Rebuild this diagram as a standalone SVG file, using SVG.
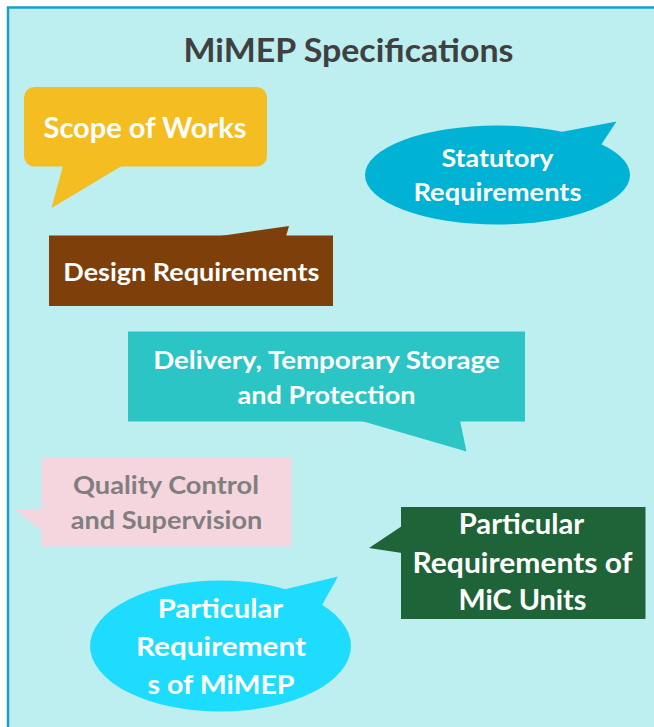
<svg xmlns="http://www.w3.org/2000/svg" width="654" height="727" viewBox="0 0 654 727">
<style>
text{font-family:Lato,"Open Sans","Liberation Sans",sans-serif;font-weight:bold;text-anchor:middle;}
.w{fill:#ffffff;}
.t{font-size:25px;}
.g{fill:#7f7f7f;}
</style>
<rect x="0" y="0" width="654" height="727" fill="#ffffff"/>
<rect id="frame" x="8" y="7.5" width="660" height="740" fill="#bdeff0" stroke="#1ba0c4" stroke-width="2.5"/>
<text id="title" x="348.5" y="61.5" font-size="32" fill="#404040" textLength="330" lengthAdjust="spacingAndGlyphs">MiMEP Specifications</text>

<g id="scope">
<rect x="24" y="87" width="243" height="79.5" rx="10.5" fill="#f4bd22"/>
<polygon points="63.5,164 125,164 51.5,208" fill="#f4bd22"/>
<text class="w" x="145" y="137.5" font-size="28" textLength="203" lengthAdjust="spacingAndGlyphs">Scope of Works</text>
</g>

<g id="statutory">
<ellipse cx="497.5" cy="175" rx="132.5" ry="49.5" fill="#00b2d3"/>
<polygon points="561,132 616.5,121.5 601,145" fill="#00b2d3"/>
<text class="w t" x="497.5" y="166.5" textLength="112" lengthAdjust="spacingAndGlyphs">Statutory</text>
<text class="w t" x="497.5" y="200.5" textLength="168" lengthAdjust="spacingAndGlyphs">Requirements</text>
</g>

<g id="design">
<rect x="49" y="235.5" width="284" height="70.5" fill="#7f3f0b"/>
<polygon points="217,236.5 289,226 286,236.5" fill="#7f3f0b"/>
<text class="w t" x="191.3" y="280.5" textLength="256" lengthAdjust="spacingAndGlyphs">Design Requirements</text>
</g>

<g id="delivery">
<rect x="128" y="331.5" width="397" height="90" fill="#2cc5c5"/>
<polygon points="360,420.5 460,420.5 466.5,451.5" fill="#2cc5c5"/>
<text class="w t" x="326.5" y="368.5" textLength="346.5" lengthAdjust="spacingAndGlyphs">Delivery, Temporary Storage</text>
<text class="w t" x="326.5" y="403.5" textLength="178" lengthAdjust="spacingAndGlyphs">and Protection</text>
</g>

<g id="quality">
<rect x="41.5" y="457" width="250" height="89.5" fill="#f5d6de"/>
<polygon points="42.5,509.5 15,509.5 42.5,532" fill="#f5d6de"/>
<text class="t g" x="166" y="494" textLength="186" lengthAdjust="spacingAndGlyphs">Quality Control</text>
<text class="t g" x="166.5" y="528.5" textLength="191.5" lengthAdjust="spacingAndGlyphs">and Supervision</text>
</g>

<g id="mic">
<rect x="401" y="507" width="244.5" height="112" fill="#1f6339"/>
<polygon points="402,526 369,548 402,553" fill="#1f6339"/>
<text class="w" x="521.5" y="534" font-size="28" textLength="125.5" lengthAdjust="spacingAndGlyphs">Particular</text>
<text class="w" x="522.5" y="572.5" font-size="28" textLength="220" lengthAdjust="spacingAndGlyphs">Requirements of</text>
<text class="w" x="522.5" y="610" font-size="28" textLength="128" lengthAdjust="spacingAndGlyphs">MiC Units</text>
</g>

<g id="mimep">
<ellipse cx="220.5" cy="646" rx="130.5" ry="65.5" fill="#1ddcfd"/>
<polygon points="282,590 338,576.5 322,605" fill="#1ddcfd"/>
<text class="w" x="220.5" y="617.5" font-size="27" textLength="125.5" lengthAdjust="spacingAndGlyphs">Particular</text>
<text class="w" x="221" y="656" font-size="27" textLength="170" lengthAdjust="spacingAndGlyphs">Requirement</text>
<text class="w" x="221" y="694" font-size="27" textLength="147" lengthAdjust="spacingAndGlyphs">s of MiMEP</text>
</g>
</svg>
